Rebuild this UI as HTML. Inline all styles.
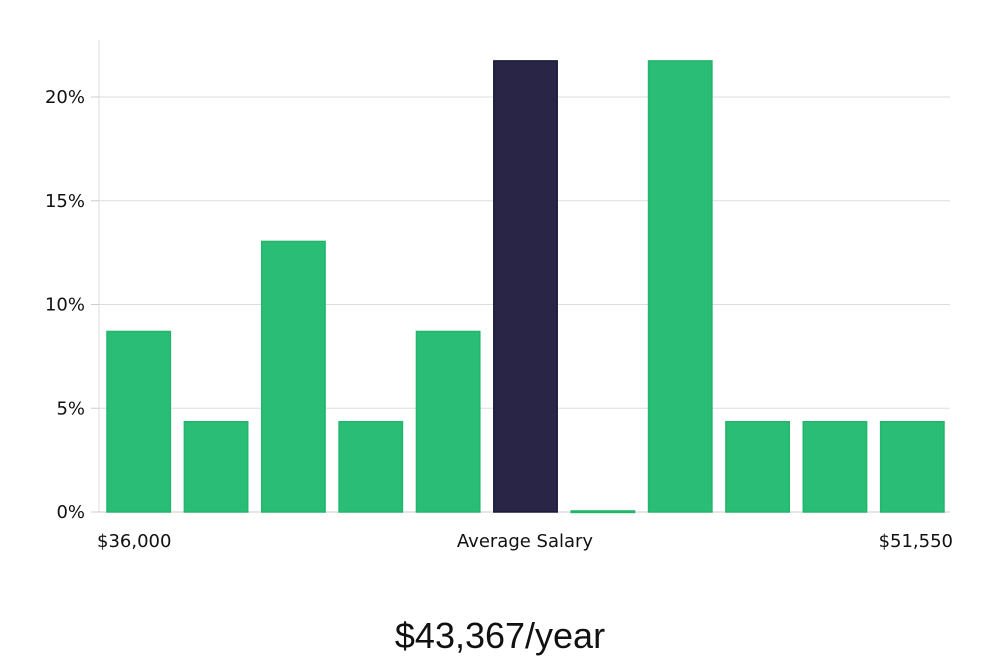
<!DOCTYPE html>
<html><head><meta charset="utf-8"><style>
body{margin:0;background:#fff;width:1000px;height:660px;overflow:hidden;font-family:"DejaVu Sans","Liberation Sans",sans-serif;}
</style></head><body>
<svg width="1000" height="660">
<g id="grid"></g><g id="bars"></g><g id="labels"></g>
<text x="500" y="648" text-anchor="middle" font-size="36" font-family="Liberation Sans Narrow, Liberation Sans, sans-serif" fill="#111">$43,367/year</text>
</svg>
<script>
const categories=["b1","b2","b3","b4","b5","avg","b7","b8","b9","b10","b11"];
const values=[8.7,4.35,13.04,4.35,8.7,21.74,0.05,21.74,4.35,4.35,4.35];
const highlight=[false,false,false,false,false,true,false,false,false,false,false];
const yTicks=[0,5,10,15,20];
const yTickLabels=["0%","5%","10%","15%","20%"];
const xLabels=["$36,000","Average Salary","$51,550"];
const ns="http://www.w3.org/2000/svg";
const X0=99,X1=950,Y0=512,pxPer=20.75;
const y=v=>Y0-v*pxPer;
const slot=(X1-X0)/categories.length;
const mk=(t,a,p)=>{const e=document.createElementNS(ns,t);for(const k in a)e.setAttribute(k,a[k]);p.appendChild(e);return e;};
const grid=document.getElementById('grid'),bars=document.getElementById('bars'),lab=document.getElementById('labels');
const ax=mk('line',{x1:X0,x2:X0,y1:40,y2:Y0,stroke:'#ddd'},grid);


yTicks.forEach((t,i)=>{
  if(t>0){const l=mk('line',{x1:X0,x2:X1,y1:y(t),y2:y(t),stroke:'#ddd'},grid);
  
  }
  const tk=mk('line',{x1:X0-8,x2:X0,y1:y(t),y2:y(t),stroke:'#ccc'},grid);
  
  
  const tx=mk('text',{x:X0-14,y:y(t)+6,'text-anchor':'end','font-size':18,fill:'#111'},lab);
  tx.textContent=yTickLabels[i];
  
  
});
const base=mk('line',{x1:X0-8,x2:X1,y1:Y0,y2:Y0,stroke:'#ccc'},grid);


values.forEach((v,i)=>{
  const bx=X0+i*slot+8,bw=slot-14;
  const r=mk('rect',{x:bx,y:y(v),width:bw,height:Math.max(1.5,v*pxPer),fill:highlight[i]?'#292546':'#2abd76',stroke:highlight[i]?'#1a1838':'#22b56c','stroke-width':1.5},bars);
  
  
});
[[X0-2,'start'],[525,'middle'],[953,'end']].forEach((p,i)=>{
  const t=mk('text',{x:p[0],y:547,'text-anchor':p[1],'font-size':18,fill:'#111'},lab);
  t.textContent=xLabels[i];
  
  
});
</script>
</body></html>
